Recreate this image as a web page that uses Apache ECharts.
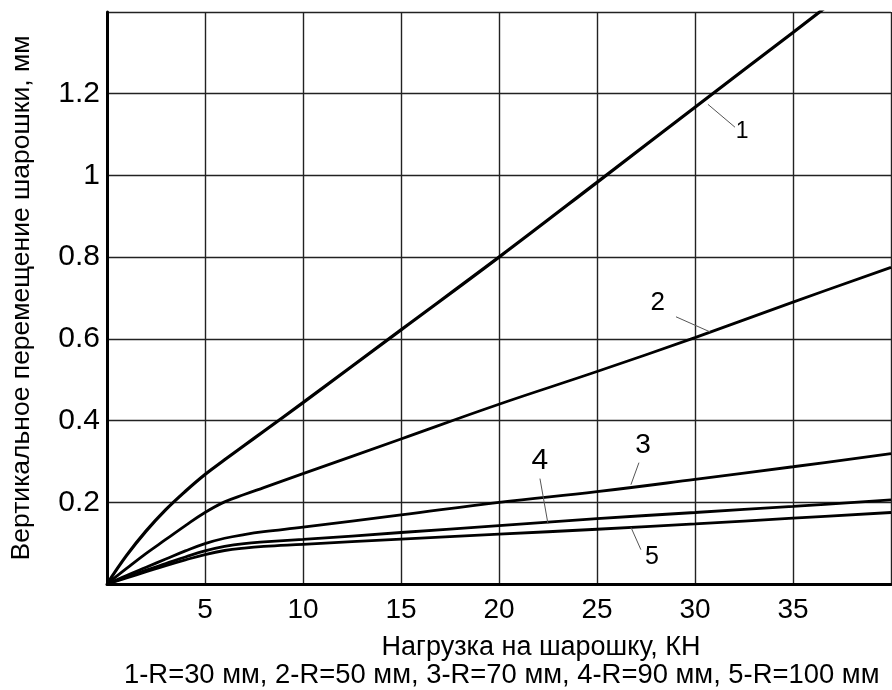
<!DOCTYPE html>
<html>
<head>
<meta charset="utf-8">
<title>Вертикальное перемещение шарошки</title>
<script src="https://cdn.jsdelivr.net/npm/echarts@6/dist/echarts.min.js"></script>
<style>
  html, body { margin: 0; padding: 0; background: #fff; }
  #chart { width: 892px; height: 690px; }
</style>
</head>
<body>
<div id="chart"></div>
<script>
// нагрузка, КН
const loads = [0, 1, 2, 3, 4, 5, 6, 7, 8, 10, 15, 20, 25, 30, 35, 40];
// перемещение, мм (R = 30, 50, 70, 90, 100 мм)
const disp1 = [0, 0.07, 0.13, 0.182, 0.227, 0.268, 0.304, 0.339, 0.374, 0.444, 0.622, 0.80, 0.983, 1.167, 1.35, 1.535];
const disp2 = [0, 0.038, 0.075, 0.109, 0.143, 0.175, 0.201, 0.219, 0.236, 0.27, 0.355, 0.44, 0.52, 0.603, 0.69, 0.775];
const disp3 = [0, 0.021, 0.041, 0.061, 0.081, 0.099, 0.112, 0.121, 0.128, 0.139, 0.169, 0.2, 0.226, 0.256, 0.287, 0.319];
const disp4 = [0, 0.017, 0.034, 0.05, 0.066, 0.081, 0.092, 0.099, 0.103, 0.109, 0.126, 0.143, 0.16, 0.175, 0.19, 0.206];
const disp5 = [0, 0.015, 0.03, 0.045, 0.059, 0.072, 0.082, 0.088, 0.092, 0.097, 0.11, 0.122, 0.134, 0.147, 0.161, 0.175];

const curveNames = ['1', '2', '3', '4', '5'];
const xTickLabels = ['5', '10', '15', '20', '25', '30', '35'];
const yTickLabels = ['0.2', '0.4', '0.6', '0.8', '1', '1.2'];
const caption = '1-R=30 мм, 2-R=50 мм, 3-R=70 мм, 4-R=90 мм, 5-R=100 мм';

// подписи кривых: положение текста и выноски (в координатах графика)
const labelSpots = [
  { text: [32.4, 1.106], from: [30.66, 1.174], to: [32.04, 1.118], size: 23 },
  { text: [28.1, 0.689], from: [30.77, 0.617], to: [29.03, 0.654], size: 26 },
  { text: [27.35, 0.339], from: [26.73, 0.243], to: [27.14, 0.297], size: 28 },
  { text: [22.09, 0.302], from: [22.5, 0.147], to: [22.09, 0.258], size: 30 },
  { text: [27.8, 0.067], from: [26.73, 0.139], to: [27.24, 0.084], size: 25 }
];

const font = 'Liberation Sans, Arial, sans-serif';
const allDisp = [disp1, disp2, disp3, disp4, disp5];

const series = allDisp.map(function (d, i) {
  const spot = labelSpots[i];
  return {
    type: 'line',
    name: curveNames[i],
    data: loads.map(function (x, k) { return [x, d[k]]; }),
    showSymbol: false,
    smooth: 0.4,
    clip: true,
    lineStyle: { color: '#000', width: i === 0 ? 3.2 : 2.8 },
    markLine: {
      silent: true,
      symbol: ['none', 'none'],
      label: { show: false },
      lineStyle: { color: '#555', width: 1, type: 'solid' },
      data: [[{ coord: spot.from }, { coord: spot.to }]]
    },
    markPoint: {
      silent: true,
      symbol: 'circle',
      symbolSize: 1,
      itemStyle: { color: 'rgba(0,0,0,0)' },
      label: {
        show: true,
        position: 'inside',
        formatter: curveNames[i],
        color: '#000',
        fontFamily: font,
        fontSize: spot.size
      },
      data: [{ coord: spot.text }]
    }
  };
});

const chart = echarts.init(document.getElementById('chart'));
chart.setOption({
  animation: false,
  backgroundColor: '#fff',
  title: {
    text: caption,
    left: 119,
    top: 657,
    textStyle: { fontFamily: font, fontSize: 27.4, fontWeight: 'normal', color: '#000' }
  },
  grid: { left: 107, right: 1, top: 12, bottom: 106, outerBoundsMode: 'none', containLabel: false },
  xAxis: {
    type: 'value',
    min: 0,
    max: 40,
    interval: 5,
    name: 'Нагрузка на шарошку, КН',
    nameLocation: 'middle',
    nameGap: 50,
    nameTextStyle: { fontFamily: font, fontSize: 27, color: '#000', padding: [0, 0, 0, 84] },
    axisLine: { show: true, onZero: false, lineStyle: { color: '#000', width: 3 } },
    axisTick: { show: false },
    axisLabel: {
      fontFamily: font,
      fontSize: 28,
      color: '#000',
      margin: 12,
      formatter: function (v) { return xTickLabels.indexOf(String(v)) >= 0 ? String(v) : ''; }
    },
    splitLine: { show: true, lineStyle: { color: '#222', width: 1.4 } }
  },
  yAxis: {
    type: 'value',
    min: 0,
    max: 1.4,
    interval: 0.2,
    name: 'Вертикальное перемещение шарошки, мм',
    nameLocation: 'middle',
    nameGap: 72,
    nameTextStyle: { fontFamily: font, fontSize: 26.5, color: '#000' },
    axisLine: { show: true, onZero: false, lineStyle: { color: '#000', width: 3 } },
    axisTick: { show: false },
    axisLabel: {
      fontFamily: font,
      fontSize: 30,
      color: '#000',
      margin: 7,
      formatter: function (v) {
        const s = String(Math.round(v * 10) / 10);
        return yTickLabels.indexOf(s) >= 0 ? s : '';
      }
    },
    splitLine: { show: true, lineStyle: { color: '#222', width: 1.4 } }
  },
  series: series
});
</script>
</body>
</html>
